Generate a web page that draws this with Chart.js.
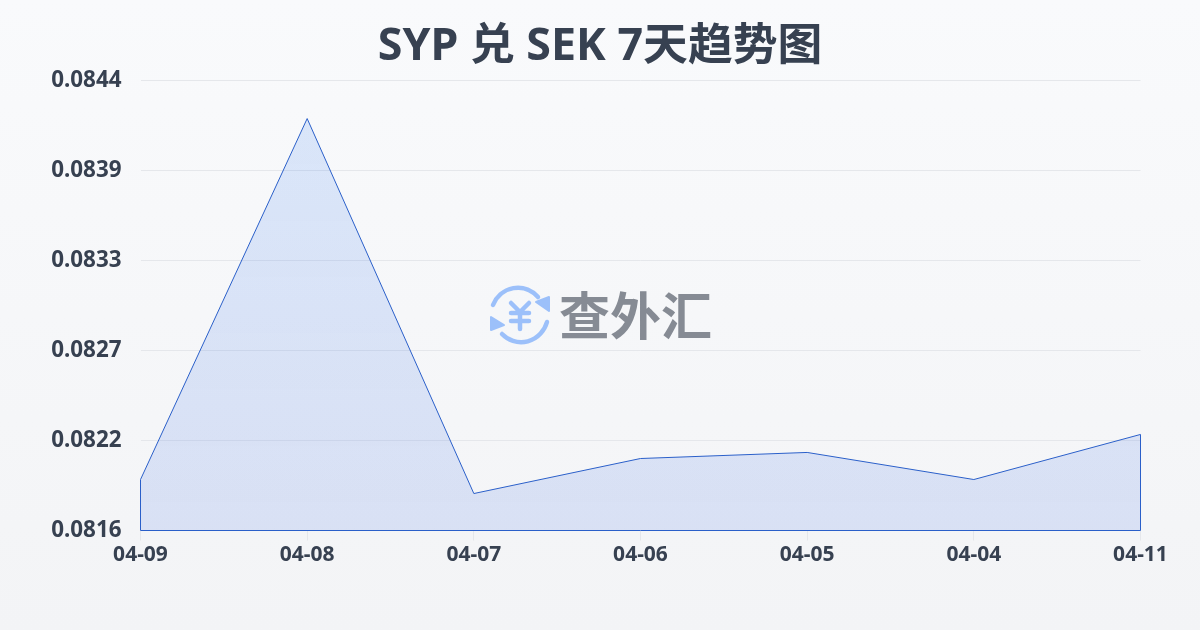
<!DOCTYPE html>
<html lang="zh"><head><meta charset="utf-8">
<script src="https://cdn.jsdelivr.net/npm/chart.js@4"></script>
<style>
html,body{margin:0;padding:0;width:1200px;height:630px;overflow:hidden}
body{background:linear-gradient(180deg,#f9fafc 0%,#f3f4f6 100%);position:relative;font-family:"Noto Sans","Noto Sans CJK SC",sans-serif}
#c{position:absolute;left:0;top:0}
#wm{position:absolute;left:488px;top:284px;width:240px;height:64px;pointer-events:none}
#wm svg{position:absolute;left:0;top:0}
#wm span{position:absolute;left:71px;top:-9px;font:700 51px/76px "Noto Sans CJK SC",sans-serif;color:#868b94;white-space:nowrap}
</style></head><body>
<canvas id="c" width="1200" height="630"></canvas>
<div id="wm">
<svg width="64" height="64" viewBox="0 0 64 64" fill="none" stroke="#9cc0fa" stroke-width="4.5" stroke-linecap="round" stroke-linejoin="round">
<path d="M5 21 A27 28 0 0 1 50 13"/><path d="M59 38 A27 28 0 0 1 14 50"/>
<path d="M61 13 L61 27 L48 18 Z" fill="#9cc0fa" stroke-width="2"/><path d="M3 33 L3 46 L16 41 Z" fill="#9cc0fa" stroke-width="2"/>
<path d="M23 19 L32 28 L41 19 M32 28 V45 M23 29 H41 M23 37 H41"/>
</svg>
<span>查外汇</span>
</div>
<script>
const categories = ["04-09","04-08","04-07","04-06","04-05","04-04","04-11"];
const rates = [0.08192,0.084186,0.081832,0.082052,0.08209,0.08192,0.082203];
const yTickValues = [0.0816,0.082165,0.08273,0.083295,0.08386,0.084425];
const chartTitle = "SYP 兑 SEK 7天趋势图";
const FONT = '"Noto Sans","Noto Sans CJK SC",sans-serif';
const ctx = document.getElementById('c').getContext('2d');
const fillGrad = ctx.createLinearGradient(0,80,0,530);
fillGrad.addColorStop(0,'rgba(59,130,246,0.16)');
fillGrad.addColorStop(1,'rgba(37,90,225,0.13)');
new Chart(ctx,{
 type:'line',
 data:{labels:categories,datasets:[{data:rates,borderColor:'rgba(0,0,0,0)',borderWidth:0,backgroundColor:fillGrad,fill:'start',tension:0,pointRadius:0}]},
 options:{
  responsive:false,animation:false,
  layout:{padding:{left:0,right:59.5,top:80.5,bottom:0}},
  plugins:{legend:{display:false},tooltip:{enabled:false},title:{display:false}},
  scales:{
   x:{afterFit(s){s.height=99.5},
    grid:{display:true,drawOnChartArea:false,drawTicks:true,tickLength:10,color:'#e5e7eb'},border:{display:false},
    ticks:{color:'#374151',padding:2,maxRotation:0,autoSkip:false,font:{family:FONT,size:21,weight:'700'}}},
   y:{min:yTickValues[0],max:yTickValues[yTickValues.length-1],
    afterFit(s){s.width=140.5},
    afterBuildTicks(s){s.ticks=yTickValues.map(v=>({value:v}))},
    grid:{color:'#e5e7eb',lineWidth:1,drawTicks:false},border:{display:false},
    ticks:{color:'#374151',padding:19,font:{family:FONT,size:22.4,weight:'700'},callback:v=>Number(v).toFixed(4)}}
  }
 },
 plugins:[{id:'outline',afterDatasetsDraw(ch){
   const x=ch.scales.x,y=ch.scales.y,c=ch.ctx;
   c.save();c.strokeStyle='#2a5fc9';c.lineWidth=1;c.beginPath();
   rates.forEach((v,i)=>{const px=x.getPixelForValue(i),py=y.getPixelForValue(v);i?c.lineTo(px,py):c.moveTo(px,py);});
   c.lineTo(x.getPixelForValue(rates.length-1),y.getPixelForValue(yTickValues[0]));
   c.lineTo(x.getPixelForValue(0),y.getPixelForValue(yTickValues[0]));
   c.closePath();c.stroke();c.restore();
 }},{id:'titleText',afterDraw(ch){const c=ch.ctx;c.save();c.font='700 44.8px '+FONT;c.fillStyle='#374151';c.textAlign='center';c.textBaseline='middle';c.fillText(chartTitle,600,47);c.restore();}}]
});
</script>
</body></html>
